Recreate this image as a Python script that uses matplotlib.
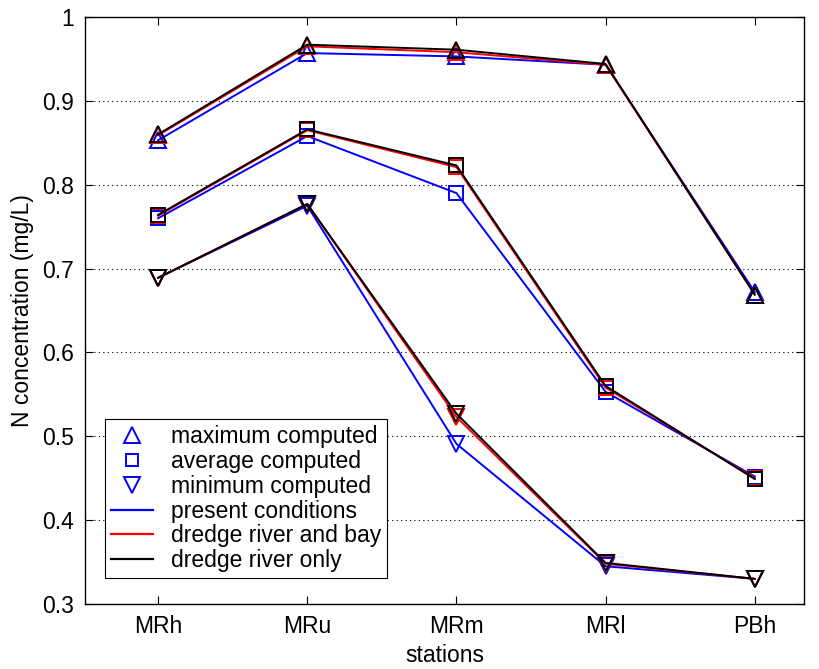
import matplotlib
matplotlib.use("Agg")
import matplotlib.pyplot as plt
from matplotlib.lines import Line2D

stations = ["MRh", "MRu", "MRm", "MRl", "PBh"]
x = [1, 2, 3, 4, 5]

# present conditions (blue)
present_max = [0.853, 0.957, 0.953, 0.943, 0.672]
present_avg = [0.760, 0.858, 0.790, 0.553, 0.452]
present_min = [0.689, 0.775, 0.491, 0.345, 0.330]
# dredge river and bay (red)
bay_max = [0.859, 0.965, 0.958, 0.943, 0.669]
bay_avg = [0.763, 0.865, 0.821, 0.558, 0.450]
bay_min = [0.689, 0.777, 0.523, 0.348, 0.330]
# dredge river only (black)
river_max = [0.860, 0.967, 0.961, 0.944, 0.669]
river_avg = [0.764, 0.866, 0.823, 0.560, 0.449]
river_min = [0.689, 0.777, 0.527, 0.349, 0.330]

plt.rcParams['font.family'] = ['Liberation Sans', 'DejaVu Sans']
FS = 16.5

fig = plt.figure(figsize=(8.2, 6.69), dpi=100)
ax = fig.add_axes([85/820, 1-604/669, (804-85)/820, (604-17)/669])

series = [
    ("blue", present_max, present_avg, present_min),
    ("red", bay_max, bay_avg, bay_min),
    ("black", river_max, river_avg, river_min),
]
for color, mx, av, mn in series:
    lw = 1.4
    ax.plot(x, mx, color=color, lw=lw, marker='^', ms=11, mfc='none', mec=color, mew=1.4)
    ax.plot(x, av, color=color, lw=lw, marker='s', ms=10, mfc='none', mec=color, mew=1.4)
    ax.plot(x, mn, color=color, lw=lw, marker='v', ms=11, mfc='none', mec=color, mew=1.4)

ax.set_xlim(0.51, 5.33)
ax.set_ylim(0.3, 1.0)
ax.set_xticks(x)
ax.set_xticklabels(stations)
ax.set_yticks([0.3, 0.4, 0.5, 0.6, 0.7, 0.8, 0.9, 1.0])
ax.set_yticklabels(["0.3", "0.4", "0.5", "0.6", "0.7", "0.8", "0.9", "1"])
ax.yaxis.grid(True, linestyle=(0, (1, 3)), color='black', lw=0.8)
ax.tick_params(direction='in', labelsize=FS, length=6, top=True, right=True, pad=8)
for s in ax.spines.values():
    s.set_linewidth(1.0)
ax.set_xlabel("stations", fontsize=FS, labelpad=4)
ax.set_ylabel("N concentration (mg/L)", fontsize=FS, labelpad=6)

handles = [
    Line2D([], [], ls='none', marker='^', ms=11, mfc='none', mec='blue', mew=1.4),
    Line2D([], [], ls='none', marker='s', ms=9, mfc='none', mec='blue', mew=1.4),
    Line2D([], [], ls='none', marker='v', ms=11, mfc='none', mec='blue', mew=1.4),
    Line2D([], [], color='blue', lw=1.6),
    Line2D([], [], color='red', lw=1.6),
    Line2D([], [], color='black', lw=1.6),
]
labels = ["maximum computed", "average computed", "minimum computed",
          "present conditions", "dredge river and bay", "dredge river only"]
leg = ax.legend(handles, labels, loc='lower left', bbox_to_anchor=(20/719, 26/587),
                fontsize=FS, frameon=True, fancybox=False, edgecolor='black',
                framealpha=1, handlelength=1.85, labelspacing=0.08, borderpad=0.25,
                handletextpad=0.8, borderaxespad=0)
leg.get_frame().set_linewidth(0.8)

fig.savefig("out.png", dpi=100)
